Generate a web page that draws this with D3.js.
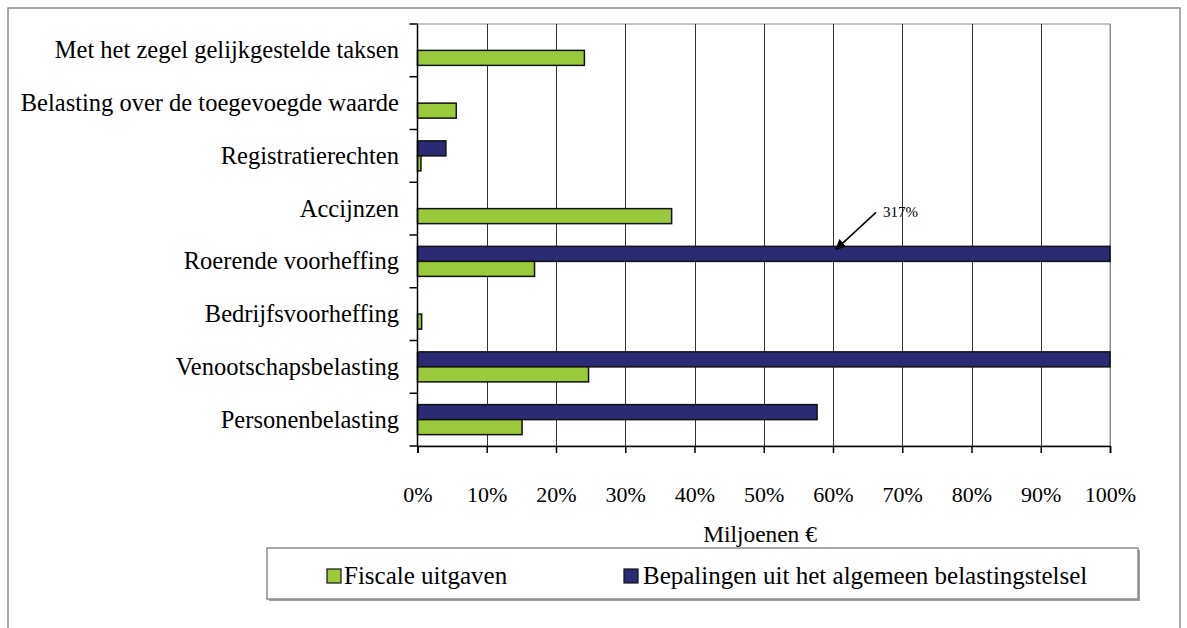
<!DOCTYPE html>
<html>
<head>
<meta charset="utf-8">
<script src="https://cdn.jsdelivr.net/npm/d3@7"></script>
<style>
  html, body { margin: 0; padding: 0; background: #fff; }
  svg { display: block; }
  text { font-family: "Liberation Serif", "Times New Roman", serif; fill: #000; }
</style>
</head>
<body>
<svg id="chart" width="1187" height="628"></svg>
<script>
// ---- data ----
const categories = [
  "Met het zegel gelijkgestelde taksen",
  "Belasting over de toegevoegde waarde",
  "Registratierechten",
  "Accijnzen",
  "Roerende voorheffing",
  "Bedrijfsvoorheffing",
  "Venootschapsbelasting",
  "Personenbelasting"
];
const fiscaleUitgaven = [24.1, 5.6, 0.5, 36.7, 16.9, 0.6, 24.7, 15.1];
const bepalingen      = [null, null, 4.1, null, 317, null, 100, 57.7];
const seriesNames = ["Fiscale uitgaven", "Bepalingen uit het algemeen belastingstelsel"];
const xTicks = [0, 10, 20, 30, 40, 50, 60, 70, 80, 90, 100];
const axisTitle = "Miljoenen €";
const annotation = { category: "Roerende voorheffing", label: "317%" };

// ---- layout ----
const svg = d3.select("#chart");
const plot = { left: 417.5, right: 1110, top: 24, bottom: 446 };
const colors = { fiscale: "#9aca3c", bepalingen: "#2a2b74" };
const serif = '"Liberation Serif", "Times New Roman", serif';

// outer frame
svg.append("rect").attr("x", 8).attr("y", 8).attr("width", 1172).attr("height", 640)
  .attr("fill", "#fff").attr("stroke", "#8c8c8c").attr("stroke-width", 1.5);

const x = d3.scaleLinear().domain([0, 100]).range([plot.left, plot.right]).clamp(true);
const y = d3.scaleBand().domain(categories).range([plot.top, plot.bottom])
  .paddingInner(0.431).paddingOuter(0.2155);
const inner = d3.scaleBand().domain(["bepalingen", "fiscale"]).range([0, y.bandwidth()]);

// plot area border in grey
svg.append("rect").attr("x", plot.left).attr("y", plot.top)
  .attr("width", plot.right - plot.left).attr("height", plot.bottom - plot.top)
  .attr("fill", "none").attr("stroke", "#8c8c8c").attr("stroke-width", 1);

// vertical gridlines
svg.append("g").selectAll("line").data(xTicks.slice(1)).join("line")
  .attr("x1", d => Math.round(x(d)) + 0.5).attr("x2", d => Math.round(x(d)) + 0.5)
  .attr("y1", plot.top).attr("y2", plot.bottom)
  .attr("stroke", d => d === 100 ? "#8c8c8c" : "#333").attr("stroke-width", 1);

// bars
const rows = categories.map((c, i) => ({ c, fiscale: fiscaleUitgaven[i], bepalingen: bepalingen[i] }));
const barG = svg.append("g");
["bepalingen", "fiscale"].forEach(key => {
  barG.selectAll(null).data(rows.filter(r => r[key] != null)).join("rect")
    .attr("x", plot.left)
    .attr("y", r => y(r.c) + inner(key))
    .attr("width", r => x(r[key]) - plot.left)
    .attr("height", inner.bandwidth())
    .attr("fill", colors[key])
    .attr("stroke", "#111").attr("stroke-width", 1.5);
});

// x axis
const xAxis = d3.axisBottom(x).tickValues(xTicks).tickFormat(d => d + "%").tickSize(7).tickPadding(33);
const gx = svg.append("g").attr("transform", `translate(0,${plot.bottom})`).call(xAxis);
gx.attr("font-family", null);
gx.select(".domain").attr("stroke", "#000").attr("stroke-width", 1.5);
gx.selectAll(".tick line").attr("stroke", "#000").attr("stroke-width", 1.5);
gx.selectAll(".tick text").style("font-family", serif).attr("font-size", 22).attr("fill", "#000");

// y axis: line + ticks at category boundaries
svg.append("line").attr("x1", plot.left).attr("x2", plot.left)
  .attr("y1", plot.top).attr("y2", plot.bottom).attr("stroke", "#000").attr("stroke-width", 1.5);
const boundaries = d3.range(categories.length + 1).map(i => plot.top + i * y.step());
svg.append("g").selectAll("line").data(boundaries).join("line")
  .attr("x1", plot.left - 8).attr("x2", plot.left)
  .attr("y1", d => d).attr("y2", d => d)
  .attr("stroke", "#000").attr("stroke-width", 1.5);
svg.append("g").selectAll("text").data(categories).join("text")
  .attr("x", 399)
  .attr("y", d => y(d) + y.bandwidth() / 2 + 8)
  .attr("text-anchor", "end").attr("font-size", 24.5)
  .style("font-family", serif)
  .text(d => d);

// axis title
svg.append("text").attr("x", 760).attr("y", 542).attr("text-anchor", "middle")
  .attr("font-size", 23.4).style("font-family", serif).text(axisTitle);

// annotation arrow
const ay = y(annotation.category);
const defs = svg.append("defs");
defs.append("marker").attr("id", "arrow").attr("viewBox", "0 0 10 10")
  .attr("refX", 9).attr("refY", 5).attr("markerWidth", 7).attr("markerHeight", 7)
  .attr("orient", "auto-start-reverse")
  .append("path").attr("d", "M0,0 L10,5 L0,10 z").attr("fill", "#000");
svg.append("line").attr("x1", 876).attr("y1", ay - 34)
  .attr("x2", x(60) + 3).attr("y2", ay + 3)
  .attr("stroke", "#000").attr("stroke-width", 1.5).attr("marker-end", "url(#arrow)");
svg.append("text").attr("x", 883).attr("y", ay - 29).attr("font-size", 15)
  .style("font-family", serif).text(annotation.label);

// legend
const lg = svg.append("g");
lg.append("rect").attr("x", 269).attr("y", 550).attr("width", 871).attr("height", 51).attr("fill", "#a0a0a0");
lg.append("rect").attr("x", 267).attr("y", 548).attr("width", 871).attr("height", 51)
  .attr("fill", "#fff").attr("stroke", "#8c8c8c").attr("stroke-width", 1.5);
const legendItems = [
  { name: seriesNames[0], color: colors.fiscale, sx: 327, tx: 344 },
  { name: seriesNames[1], color: colors.bepalingen, sx: 624, tx: 643 }
];
legendItems.forEach(it => {
  lg.append("rect").attr("x", it.sx).attr("y", 569).attr("width", 14).attr("height", 14)
    .attr("fill", it.color).attr("stroke", "#111").attr("stroke-width", 1.2);
  lg.append("text").attr("x", it.tx).attr("y", 584).attr("font-size", 25)
    .style("font-family", serif).text(it.name);
});
</script>
</body>
</html>
